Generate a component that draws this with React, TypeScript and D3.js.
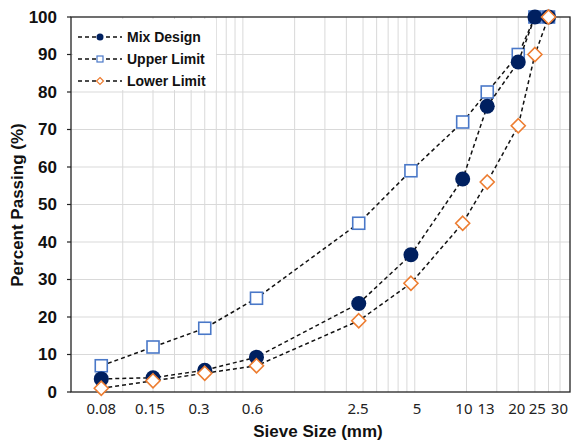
import React, {useEffect, useRef} from 'react';
import * as d3 from 'd3';

// sieve openings (mm) where the points sit
const sieves: number[] = [0.075, 0.15, 0.3, 0.6, 2.36, 4.75, 9.5, 13.2, 20, 25, 30];

// percent passing for each sieve
const mixDesign: number[] = [3.5, 3.8, 5.8, 9.3, 23.6, 36.6, 56.8, 76.2, 88, 100, 100];
const upperLimit: number[] = [7, 12, 17, 25, 45, 59, 72, 80, 90, 100, 100];
const lowerLimit: number[] = [1, 3, 5, 7, 19, 29, 45, 56, 71, 90, 100];

// x tick labels and where they were put on the log axis
const xTickLabels: string[] = ['0.08', '0.15', '0.3', '0.6', '2.5', '5', '10', '13', '20', '25', '30'];
const xTickAt: number[] = [0.075, 0.144, 0.278, 0.568, 2.34, 5.15, 9.66, 12.98, 19.6, 25.8, 34.7];

const yTicks: number[] = [0, 10, 20, 30, 40, 50, 60, 70, 80, 90, 100];

// vertical grid: 1, 1.5, ... 5 in every decade
const gridDecades: number[] = [0.01, 0.1, 1, 10];
const gridSteps: number[] = [1, 1.5, 2, 2.5, 3, 3.5, 4, 4.5, 5];

const seriesNames: string[] = ['Mix Design', 'Upper Limit', 'Lower Limit'];

const App = () => {
  const ref = useRef<SVGSVGElement | null>(null);

  useEffect(() => {
    drawChart();
    return () => {
      if (ref.current) d3.select(ref.current).selectAll('*').remove();
    };
  }, []);

  const drawChart = () => {
    const width = 575;
    const height = 443;
    const margin = {top: 17, right: 5, bottom: 51, left: 71};

    const svg = d3.select(ref.current);

    const x = d3.scaleLog().domain([0.05, 40]).range([margin.left, width - margin.right]);
    const y = d3.scaleLinear().domain([0, 100]).range([height - margin.bottom, margin.top]);

    const navy = '#002060';
    const blue = '#4a78c8';
    const orange = '#ed7d31';
    const labelFont = '"Liberation Sans", Arial, sans-serif';

    // grid lines
    const gridVals = gridDecades.flatMap(d => gridSteps.map(s => d * s))
      .filter(v => v > 0.05 && v < 40);
    svg.append('g').selectAll('line')
      .data(gridVals)
      .enter().append('line')
      .attr('x1', d => x(d)).attr('x2', d => x(d))
      .attr('y1', y(0)).attr('y2', y(100))
      .attr('stroke', '#d9d9d9').attr('stroke-width', 1);

    svg.append('g').selectAll('line')
      .data(yTicks.filter(t => t > 0 && t < 100))
      .enter().append('line')
      .attr('x1', x(0.05)).attr('x2', x(40))
      .attr('y1', d => y(d)).attr('y2', d => y(d))
      .attr('stroke', '#d9d9d9').attr('stroke-width', 1);

    // plot border
    svg.append('rect')
      .attr('x', x(0.05)).attr('y', y(100))
      .attr('width', x(40) - x(0.05)).attr('height', y(0) - y(100))
      .attr('fill', 'none').attr('stroke', '#222').attr('stroke-width', 1.3);

    // y axis ticks and labels
    const yAxis = svg.append('g');
    yAxis.selectAll('line')
      .data(yTicks)
      .enter().append('line')
      .attr('x1', x(0.05) - 4).attr('x2', x(0.05))
      .attr('y1', d => y(d)).attr('y2', d => y(d))
      .attr('stroke', '#222').attr('stroke-width', 1.2);
    yAxis.selectAll('text')
      .data(yTicks)
      .enter().append('text')
      .attr('x', 57).attr('y', d => y(d))
      .attr('dy', '0.35em')
      .attr('text-anchor', 'end')
      .attr('font-family', labelFont).attr('font-size', '17px').attr('font-weight', 'bold')
      .attr('fill', '#111')
      .text(d => d);

    // x tick labels
    svg.append('g').selectAll('text')
      .data(xTickLabels)
      .enter().append('text')
      .attr('x', (d, i) => x(xTickAt[i])).attr('y', 414)
      .attr('text-anchor', 'middle')
      .attr('font-family', '"Noto Sans", "Open Sans", sans-serif').attr('font-size', '15px')
      .attr('fill', '#222')
      .text(d => d);

    // axis titles
    svg.append('text')
      .attr('x', 318).attr('y', 437)
      .attr('text-anchor', 'middle')
      .attr('font-family', labelFont).attr('font-size', '17px').attr('font-weight', 'bold')
      .attr('fill', '#111')
      .text('Sieve Size (mm)');
    svg.append('text')
      .attr('transform', 'translate(23,205) rotate(-90)')
      .attr('text-anchor', 'middle')
      .attr('font-family', labelFont).attr('font-size', '17px').attr('font-weight', 'bold')
      .attr('fill', '#111')
      .text('Percent Passing (%)');

    // markers
    const diamond = (r: number) => `M0,${-r}L${r},0L0,${r}L${-r},0Z`;
    const drawMarker = (g: d3.Selection<SVGGElement, unknown, null, undefined>, kind: number, big: boolean) => {
      if (kind === 0) {
        g.append('circle').attr('r', big ? 7.5 : 3.5).attr('fill', navy);
      } else if (kind === 1) {
        const s = big ? 12 : 6;
        g.append('rect').attr('x', -s / 2).attr('y', -s / 2).attr('width', s).attr('height', s)
          .attr('fill', 'white').attr('stroke', blue).attr('stroke-width', big ? 1.6 : 1.2);
      } else {
        g.append('path').attr('d', diamond(big ? 7 : 3.5))
          .attr('fill', 'white').attr('stroke', orange).attr('stroke-width', big ? 1.6 : 1.2);
      }
    };

    const line = d3.line<number>()
      .x((d, i) => x(sieves[i]))
      .y(d => y(d));

    const allSeries = [mixDesign, upperLimit, lowerLimit];
    // draw order: upper, mix, lower
    [1, 0, 2].forEach(k => {
      const vals = allSeries[k];
      const g = svg.append('g');
      g.append('path')
        .attr('d', line(vals))
        .attr('fill', 'none')
        .attr('stroke', '#111')
        .attr('stroke-width', 1.5)
        .attr('stroke-dasharray', '4,3');
      vals.forEach((v, i) => {
        const mg = g.append('g').attr('transform', `translate(${x(sieves[i])},${y(v)})`);
        drawMarker(mg, k, true);
      });
    });

    // legend
    const legend = svg.append('g');
    legend.append('rect')
      .attr('x', 73).attr('y', 19).attr('width', 143).attr('height', 71)
      .attr('fill', 'white');
    seriesNames.forEach((name, i) => {
      const ly = 37 + i * 22;
      legend.append('line')
        .attr('x1', 78).attr('x2', 122).attr('y1', ly).attr('y2', ly)
        .attr('stroke', '#111').attr('stroke-width', 1.5).attr('stroke-dasharray', '4,3');
      const mg = legend.append('g').attr('transform', `translate(100,${ly})`);
      drawMarker(mg, i, false);
      legend.append('text')
        .attr('x', 127).attr('y', ly).attr('dy', '0.35em')
        .attr('font-family', labelFont).attr('font-size', '14px').attr('font-weight', 'bold')
        .attr('fill', '#111')
        .text(name);
    });
  };

  return (
    <svg ref={ref} width={575} height={443}
      style={{position: 'absolute', left: 0, top: 0, background: 'white'}} />
  );
};

export default App;
